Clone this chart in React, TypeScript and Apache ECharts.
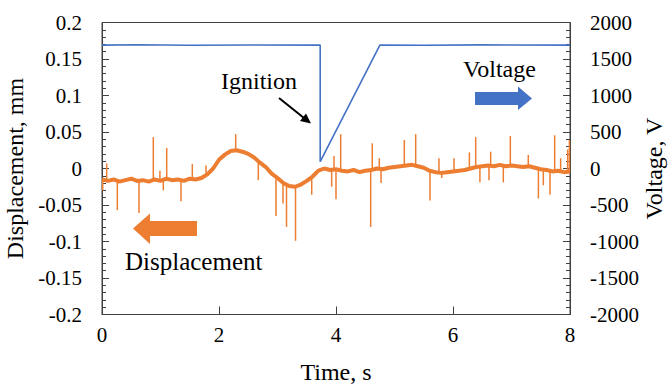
import React, { useEffect, useRef } from "react";
import * as echarts from "echarts";

// Time (s) vs displacement (mm): slow trend of the band
const displacementBand: [number, number][] = [
  [0.0, -0.015], [0.1, -0.017], [0.2, -0.015], [0.3, -0.018], [0.4, -0.016],
  [0.5, -0.014], [0.6, -0.017], [0.7, -0.016], [0.8, -0.018], [0.9, -0.015],
  [1.0, -0.017], [1.1, -0.014], [1.2, -0.016], [1.3, -0.015], [1.4, -0.017],
  [1.5, -0.014], [1.6, -0.015], [1.7, -0.013], [1.8, -0.008], [1.9, 0.0],
  [2.0, 0.012], [2.1, 0.019], [2.2, 0.024], [2.3, 0.025], [2.4, 0.023],
  [2.5, 0.02], [2.6, 0.015], [2.7, 0.008], [2.8, 0.002], [2.9, -0.007],
  [3.0, -0.013], [3.1, -0.02], [3.2, -0.024], [3.3, -0.025], [3.4, -0.022],
  [3.5, -0.017], [3.6, -0.011], [3.7, -0.003], [3.8, 0.0], [3.9, -0.002],
  [4.0, -0.001], [4.1, -0.003], [4.2, -0.004], [4.3, -0.002], [4.4, -0.005],
  [4.5, -0.003], [4.6, -0.002], [4.7, 0.0], [4.8, -0.001], [4.9, 0.001],
  [5.0, 0.002], [5.1, 0.003], [5.2, 0.004], [5.3, 0.005], [5.4, 0.003],
  [5.5, 0.001], [5.6, -0.003], [5.7, -0.005], [5.8, -0.006], [5.9, -0.005],
  [6.0, -0.004], [6.1, -0.003], [6.2, -0.002], [6.3, 0.0], [6.4, 0.002],
  [6.5, 0.003], [6.6, 0.004], [6.7, 0.003], [6.8, 0.005], [6.9, 0.003],
  [7.0, 0.004], [7.1, 0.003], [7.2, 0.002], [7.3, 0.003], [7.4, 0.001],
  [7.5, -0.001], [7.6, -0.002], [7.7, -0.004], [7.8, -0.003], [7.9, -0.005],
  [8.0, -0.004],
];

// Spikes: [time, band value, spike tip]
const displacementSpikes: [number, number, number][] = [
  [0.012, -0.015, -0.03], [0.08, -0.016, 0.007], [0.262, -0.015, -0.057],
  [0.632, -0.017, -0.061], [0.877, -0.017, 0.043], [0.99, -0.017, -0.003],
  [1.048, -0.017, -0.03], [1.106, -0.014, 0.028], [1.35, -0.015, -0.045],
  [1.544, -0.014, 0.006], [1.778, -0.01, 0.004], [2.285, 0.025, 0.047],
  [2.672, 0.01, -0.016], [2.974, -0.011, -0.065], [3.094, -0.019, -0.048],
  [3.154, -0.022, -0.08], [3.308, -0.025, -0.099], [3.585, -0.015, -0.036],
  [3.926, -0.002, -0.025], [3.966, -0.001, 0.017], [4.0, -0.001, -0.042],
  [4.08, -0.002, 0.047], [4.593, -0.003, -0.08], [4.62, -0.002, 0.0345],
  [4.74, 0.0, 0.014], [4.77, 0.0, -0.02], [5.168, 0.004, 0.039],
  [5.362, 0.004, 0.047], [5.607, -0.003, -0.044], [5.76, -0.005, 0.014],
  [5.807, -0.006, -0.013], [6.017, -0.004, 0.014], [6.28, -0.001, 0.022],
  [6.388, 0.002, 0.043], [6.46, 0.002, -0.019], [6.615, 0.004, -0.016],
  [6.644, 0.004, 0.023], [6.86, 0.004, -0.019], [6.98, 0.003, 0.0445],
  [7.287, 0.003, 0.0185], [7.46, 0.0, -0.041], [7.544, -0.001, -0.023],
  [7.658, -0.003, -0.036], [7.738, -0.004, 0.0455], [7.84, -0.003, 0.014],
  [7.96, -0.005, 0.026], [7.99, -0.004, 0.039],
];

// Time (s) vs voltage (V)
const voltage: [number, number][] = [
  [0, 1690], [0.6, 1695], [1.5, 1688], [2.5, 1692], [3.73, 1690],
  [3.73, 93], [4.75, 1690], [5.5, 1688], [6.5, 1693], [8, 1690],
];

const xTicks = { min: 0, max: 8, interval: 2 };
const dispTicks = { min: -0.2, max: 0.2, interval: 0.05 };
const voltTicks = { min: -2000, max: 2000, interval: 500 };

const ORANGE = "#ED7D31";
const BLUE = "#4472C4";
const FONT = "Liberation Serif";
const AX = "#404040";

export default function App() {
  const ref = useRef<HTMLDivElement>(null);
  useEffect(() => {
    if (!ref.current) return;
    const chart = echarts.init(ref.current, null, { renderer: "svg" });
    const labelStyle = { fontFamily: FONT, fontSize: 21, color: "#000" };
    const axisCommon = {
      axisLine: { show: true, onZero: false, lineStyle: { color: AX, width: 1 } },
      axisTick: { show: true, inside: true, length: 7, lineStyle: { color: AX } },
      minorTick: { show: true, splitNumber: 5, length: 4, lineStyle: { color: AX } },
      splitLine: { show: false },
      nameTextStyle: { fontFamily: FONT, fontSize: 24, color: "#000" },
    };
    chart.setOption({
      animation: false,
      textStyle: { fontFamily: FONT },
      grid: {
        left: 102, right: 101, top: 22.5, bottom: 70.5,
        show: true, borderColor: AX, borderWidth: 1,
        containLabel: false, outerBoundsMode: "none",
      },
      xAxis: {
        type: "value",
        ...xTicks,
        name: "Time, s",
        nameLocation: "middle",
        nameGap: 45,
        nameTextStyle: { fontFamily: FONT, fontSize: 24, color: "#000" },
        axisLine: { show: true, onZero: false, lineStyle: { color: AX } },
        axisTick: { show: true, inside: true, length: 8, lineStyle: { color: AX } },
        splitLine: { show: false },
        axisLabel: { ...labelStyle, margin: 10 },
      },
      yAxis: [
        {
          type: "value",
          position: "left",
          ...dispTicks,
          name: "Displacement, mm",
          nameLocation: "middle",
          nameGap: 70,
          ...axisCommon,
          axisLabel: {
            ...labelStyle,
            margin: 20,
            formatter: (v: number) => String(Math.round(v * 100) / 100),
          },
        },
        {
          type: "value",
          position: "right",
          ...voltTicks,
          name: "Voltage, V",
          nameLocation: "middle",
          nameGap: 72,
          nameRotate: 90,
          nameMoveOverlap: false,
          ...axisCommon,
          axisLabel: {
            ...labelStyle,
            margin: 20,
            formatter: (v: number) => String(v),
          },
        },
      ],
      series: [
        {
          type: "line",
          yAxisIndex: 1,
          data: voltage,
          showSymbol: false,
          lineStyle: { color: BLUE, width: 1.6 },
          z: 2,
        },
        {
          type: "line",
          yAxisIndex: 0,
          data: displacementBand,
          showSymbol: false,
          lineStyle: { color: ORANGE, width: 4 },
          z: 3,
        },
        {
          type: "custom",
          yAxisIndex: 0,
          data: displacementSpikes,
          encode: { x: 0, y: [1, 2] },
          renderItem: (_p: any, api: any) => {
            const a = api.coord([api.value(0), api.value(1)]);
            const b = api.coord([api.value(0), api.value(2)]);
            return {
              type: "line",
              shape: { x1: a[0], y1: a[1], x2: b[0], y2: b[1] },
              style: { stroke: ORANGE, lineWidth: 1.5 },
            };
          },
          z: 3,
        },
      ],
      graphic: [
        {
          type: "text",
          left: 221,
          top: 69,
          style: { text: "Ignition", font: `24px "${FONT}"`, fill: "#000" },
        },
        {
          type: "line",
          shape: { x1: 279, y1: 98, x2: 304, y2: 118 },
          style: { stroke: "#000", lineWidth: 2 },
        },
        {
          type: "polygon",
          shape: { points: [[311, 123.5], [300, 121], [306, 113.5]] },
          style: { fill: "#000" },
        },
        {
          type: "text",
          left: 463,
          top: 57,
          style: { text: "Voltage", font: `24px "${FONT}"`, fill: "#000" },
        },
        {
          type: "polygon",
          shape: {
            points: [[475, 92], [518, 92], [518, 86.5], [532, 98.5], [518, 110], [518, 105], [475, 105]],
          },
          style: { fill: BLUE },
        },
        {
          type: "text",
          left: 125,
          top: 249,
          style: { text: "Displacement", font: `25px "${FONT}"`, fill: "#000" },
        },
        {
          type: "polygon",
          shape: {
            points: [[197, 221], [150, 221], [150, 213.5], [133, 228.5], [150, 244], [150, 236], [197, 236]],
          },
          style: { fill: ORANGE },
        },
      ],
    });
    return () => chart.dispose();
  }, []);
  return (
    <div
      ref={ref}
      style={{ position: "absolute", left: 0, top: 0, width: 671, height: 385, background: "#fff" }}
    />
  );
}
